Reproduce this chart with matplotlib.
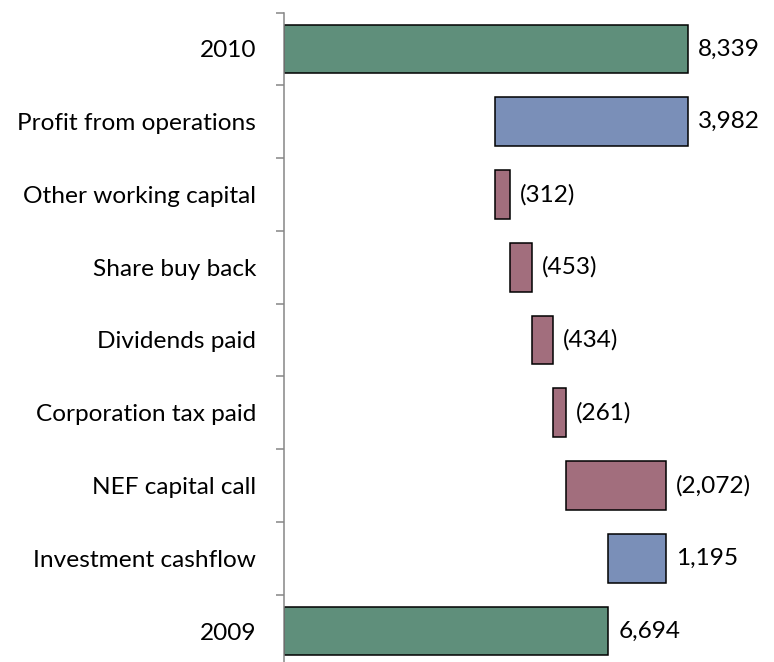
import matplotlib
matplotlib.use("Agg")
import matplotlib.pyplot as plt
import numpy as np

plt.rcParams['font.family'] = ['Lato', 'DejaVu Sans']

categories = ["2009", "Investment cashflow", "NEF capital call", "Corporation tax paid",
              "Dividends paid", "Share buy back", "Other working capital",
              "Profit from operations", "2010"]
values = [6694, 1195, -2072, -261, -434, -453, -312, 3982, 8339]
kinds = ["total", "up", "down", "down", "down", "down", "down", "up", "total"]
colors = {"total": "#5F8F7B", "up": "#7A8FB8", "down": "#A26E7D"}

W, H = 774, 662
fig = plt.figure(figsize=(W / 100, H / 100), dpi=100)
x0_px, ppu = 284, 0.04845
xmax = 9000
top_px, bot_px = 12.6, 667.4
ax = fig.add_axes([x0_px / W, (H - bot_px) / H, xmax * ppu / W, (bot_px - top_px) / H])

starts, lengths = [], []
running = 0
for v, k in zip(values, kinds):
    if k == "total":
        starts.append(0)
        lengths.append(v)
        running = v
    else:
        starts.append(running)
        lengths.append(v)
        running += v

y = np.arange(len(categories))
ax.barh(y, lengths, left=starts, height=0.67,
        color=[colors[k] for k in kinds], edgecolor="black", linewidth=1.1)

FS = 17.6
for yi, s, l, v, k in zip(y, starts, lengths, values, kinds):
    right = max(s, s + l)
    lab = f"{abs(v):,}" if v >= 0 else f"({abs(v):,})"
    ax.annotate(lab, xy=(right, yi), xytext=(10, 0), textcoords="offset pixels",
                va="center", ha="left", fontsize=FS)

ax.set_xlim(0, xmax)
ax.set_ylim(-0.5, len(categories) - 0.5)
ax.set_yticks(y)
ax.set_yticklabels(categories, fontsize=FS)
ax.set_yticks(np.arange(-0.5, len(categories)), minor=True)
ax.tick_params(axis='y', which='major', length=0, pad=20)
ax.tick_params(axis='y', which='minor', length=5.5, width=1.1, color="#868686", direction="out")
ax.set_xticks([])
for s in ["top", "right", "bottom"]:
    ax.spines[s].set_visible(False)
ax.spines["left"].set_color("#868686")
ax.spines["left"].set_linewidth(1.1)

fig.savefig("out.png", dpi=100)
